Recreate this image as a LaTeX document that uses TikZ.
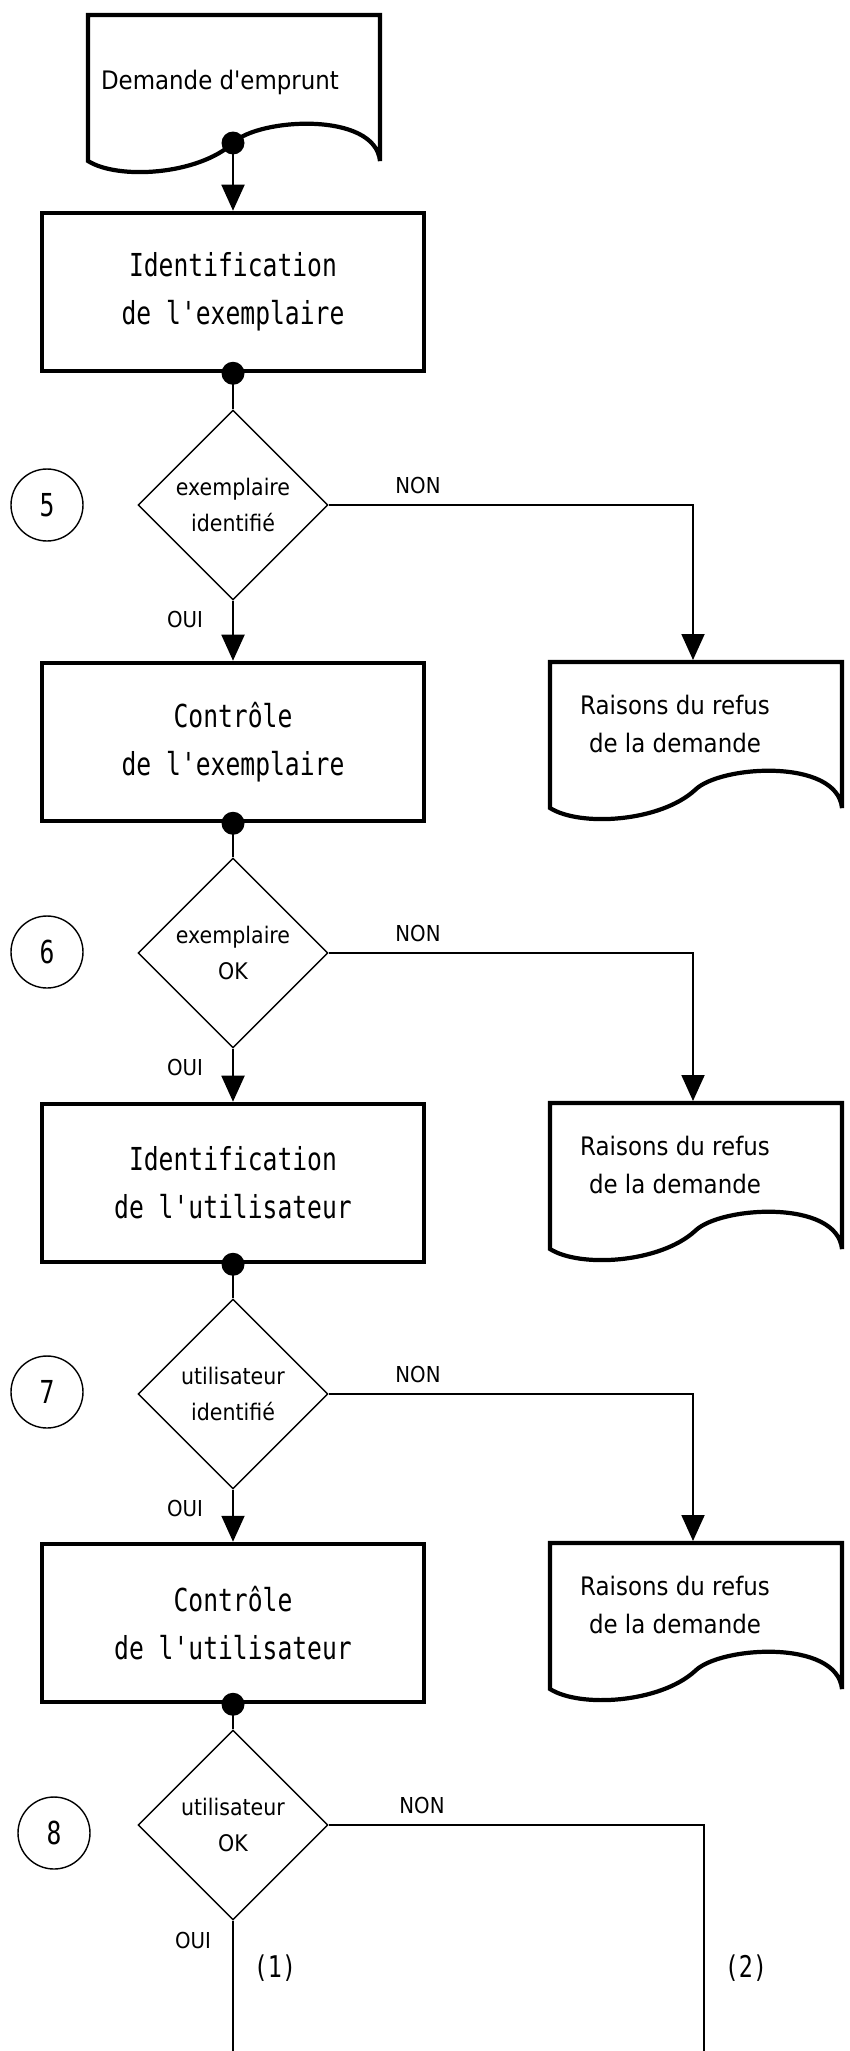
\documentclass[tikz,border=0pt]{standalone}
\usepackage{fontspec}
\usepackage{tikz}
\usetikzlibrary{shapes.geometric}
\usetikzlibrary{arrows.meta}

\newfontfamily\boxfont[FakeStretch=0.78]{DejaVu Sans Mono}
\newfontfamily\smallfont[FakeStretch=0.9]{DejaVu Sans}

% outline of a document symbol, from its top left corner
\newcommand{\drawdoc}[1]{\draw[docline] (#1) -- ++(0,146) .. controls +(30,19) and +(-35,32) .. ++(145,-18) .. controls +(25,-25) and +(-5,-50) .. ++(147,18) -- ++(0,-146) -- cycle;}

\begin{document}
\begin{tikzpicture}[x=0.02cm, y=-0.02cm,
    box/.style={draw, line width=2.6pt, minimum width=7.64cm, minimum height=3.16cm, inner sep=0pt, align=center, font=\boxfont\fontsize{18}{27.3}\selectfont},
    decision/.style={draw, diamond, line width=0.8pt, minimum width=3.8cm, minimum height=3.8cm, inner sep=0pt, align=center, font=\smallfont\fontsize{13}{20}\selectfont},
    docline/.style={line width=2.4pt, line join=miter},
    doctext/.style={align=center, inner sep=0pt, font=\smallfont\fontsize{14.5}{22}\selectfont},
    num/.style={draw, circle, line width=0.8pt, minimum size=1.44cm, inner sep=0pt, font=\boxfont\fontsize{18}{20}\selectfont},
    branch/.style={inner sep=0pt, font=\smallfont\fontsize{12.5}{15}\selectfont},
    exitlabel/.style={inner sep=0pt, font=\boxfont\fontsize{17}{18}\selectfont},
    conn/.style={line width=1.1pt},
    flow/.style={conn, -{Triangle[width=4.6mm,length=5.2mm]}}]

    \useasboundingbox (0,0) rectangle (849,2051);

    % demande
    \coordinate (dem) at (88,15);
    \drawdoc{dem}
    \node[doctext] (demtxt) at (220,82) {Demande d'emprunt};
    \coordinate (demout) at (233,143);

    \node[box] (idex) at (233,292) {Identification\\de l'exemplaire};
    \draw[flow] (demout) -- (idex.north);
    \fill (demout) circle (0.23cm);

    % test 5
    \node[decision] (q5) at (233,505) {exemplaire\\identifi\'e};
    \node[num] (n5) at (47,505) {5};
    \draw[conn] (idex.south) -- (q5.north);
    \fill (idex.south) circle (0.23cm);

    \node[box] (ctex) at (233,742) {Contr\^ole\\de l'exemplaire};
    \draw[flow] (q5.south) -- (ctex.north);
    \node[branch] (oui5) at (185,619) {OUI};

    \coordinate (ref5) at (550,662);
    \drawdoc{ref5}
    \node[doctext] (ref5txt) at (675,724) {Raisons du refus\\de la demande};
    \coordinate (ref5in) at (693,660);
    \draw[flow] (q5.east) -| (ref5in);
    \node[branch] (non5) at (418,486) {NON};

    % test 6
    \node[decision] (q6) at (233,953) {exemplaire\\OK};
    \node[num] (n6) at (47,952) {6};
    \draw[conn] (ctex.south) -- (q6.north);
    \fill (ctex.south) circle (0.23cm);

    \node[box] (idut) at (233,1183) {Identification\\de l'utilisateur};
    \draw[flow] (q6.south) -- (idut.north);
    \node[branch] (oui6) at (185,1067) {OUI};

    \coordinate (ref6) at (550,1103);
    \drawdoc{ref6}
    \node[doctext] (ref6txt) at (675,1165) {Raisons du refus\\de la demande};
    \coordinate (ref6in) at (693,1101);
    \draw[flow] (q6.east) -| (ref6in);
    \node[branch] (non6) at (418,933) {NON};

    % test 7
    \node[decision] (q7) at (233,1394) {utilisateur\\identifi\'e};
    \node[num] (n7) at (47,1392) {7};
    \draw[conn] (idut.south) -- (q7.north);
    \fill (idut.south) circle (0.23cm);

    \node[box] (ctut) at (233,1623) {Contr\^ole\\de l'utilisateur};
    \draw[flow] (q7.south) -- (ctut.north);
    \node[branch] (oui7) at (185,1508) {OUI};

    \coordinate (ref7) at (550,1543);
    \drawdoc{ref7}
    \node[doctext] (ref7txt) at (675,1605) {Raisons du refus\\de la demande};
    \coordinate (ref7in) at (693,1541);
    \draw[flow] (q7.east) -| (ref7in);
    \node[branch] (non7) at (418,1374) {NON};

    % test 8
    \node[decision] (q8) at (233,1825) {utilisateur\\OK};
    \node[num] (n8) at (54,1833) {8};
    \draw[conn] (ctut.south) -- (q8.north);
    \fill (ctut.south) circle (0.23cm);

    \coordinate (out1) at (233,2051);
    \coordinate (out2) at (704,2051);
    \draw[conn] (q8.south) -- (out1);
    \draw[conn] (q8.east) -| (out2);
    \node[branch] (oui8) at (193,1940) {OUI};
    \node[branch] (non8) at (422,1805) {NON};
    \node[exitlabel] (x1) at (275,1968) {(1)};
    \node[exitlabel] (x2) at (746,1968) {(2)};
\end{tikzpicture}
\end{document}
